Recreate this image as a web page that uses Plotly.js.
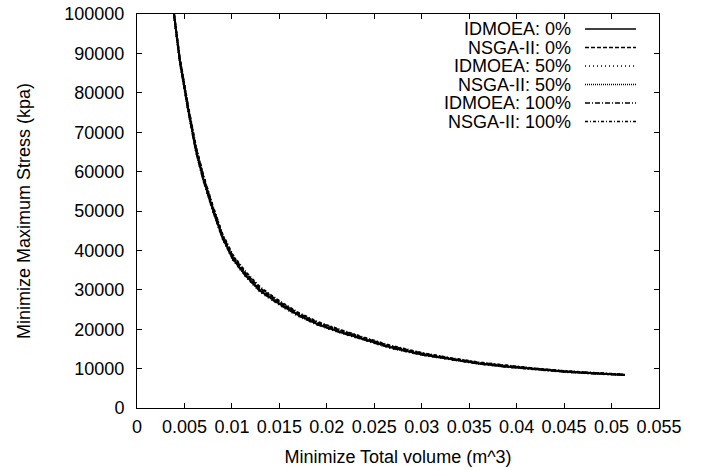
<!DOCTYPE html>
<html><head><meta charset="utf-8">
<script src="https://cdn.plot.ly/plotly-3.0.1.min.js"></script>
<style>html,body{margin:0;padding:0;background:#fff}#chart{width:717px;height:470px}</style>
</head><body><div id="chart"></div>
<script>
const seriesNames = ["IDMOEA: 0%", "NSGA-II: 0%", "IDMOEA: 50%", "NSGA-II: 50%", "IDMOEA: 100%", "NSGA-II: 100%"];
const volume = [0.0039,0.0045,0.0054,0.0062,0.0070,0.0080,0.0090,0.0101,0.0115,0.0130,0.0151,0.0170,0.0190,0.0214,0.0240,0.0267,0.0300,0.0330,0.0360,0.0390,0.0420,0.0450,0.0480,0.0514];
const stressIDMOEA0   = [100000,88300,75600,65500,58000,50300,43300,37900,33500,29700,26300,23600,21300,19300,17400,15400,13600,12400,11300,10500,9800,9250,8800,8400];
const stressNSGA0     = [100000,88800,76200,66200,58700,50900,43900,38500,34100,30300,26800,24000,21700,19700,17700,15700,13900,12600,11500,10700,9950,9350,8900,8450];
const stressIDMOEA50  = [99500,87900,75200,65100,57600,49900,43000,37600,33200,29400,26000,23300,21100,19100,17200,15200,13450,12250,11200,10400,9700,9150,8720,8350];
const stressNSGA50    = [100000,88500,75900,65800,58300,50600,43600,38200,33800,30000,26600,23800,21500,19500,17550,15550,13750,12500,11400,10600,9870,9300,8850,8420];
const stressIDMOEA100 = [99800,88100,75400,65300,57800,50100,43150,37750,33350,29550,26150,23450,21200,19200,17300,15300,13520,12320,11250,10450,9750,9200,8760,8380];
const stressNSGA100   = [100000,89000,76500,66500,59000,51200,44200,38800,34400,30600,27000,24200,21900,19850,17850,15850,14000,12700,11600,10750,10000,9400,8930,8470];
const xTickVals = [0,0.005,0.01,0.015,0.02,0.025,0.03,0.035,0.04,0.045,0.05,0.055];
const xTickText = ["0","0.005","0.01","0.015","0.02","0.025","0.03","0.035","0.04","0.045","0.05","0.055"];
const yTickVals = [0,10000,20000,30000,40000,50000,60000,70000,80000,90000,100000];
const yTickText = ["0","10000","20000","30000","40000","50000","60000","70000","80000","90000","100000"];

const allStress = [stressIDMOEA0, stressNSGA0, stressIDMOEA50, stressNSGA50, stressIDMOEA100, stressNSGA100];
const dashes = ["solid", "4px,2px", "1px,3px", "1px,1px", "5px,2px,1px,2px", "3px,2px,1px,2px"];

const W = 717, H = 470;
const M = {l: 137, r: 58, t: 14, b: 62};
const pw = W - M.l - M.r, ph = H - M.t - M.b;
const px = v => (v - M.l) / pw;
const py = v => (H - M.b - v) / ph;

const traces = allStress.map((s, i) => ({
  x: volume, y: s, type: 'scatter', mode: 'lines', name: seriesNames[i],
  line: {color: '#000', width: 2, dash: dashes[i]}, showlegend: false
}));

const font = {family: 'Liberation Sans, Arial, Helvetica, sans-serif', size: 18, color: '#000'};
const annotations = [], shapes = [];
seriesNames.forEach((n, i) => {
  const yc = 29 + i * 18.5;
  annotations.push({xref: 'paper', yref: 'paper', x: px(572), y: py(yc), xanchor: 'right', yanchor: 'middle',
    text: n, showarrow: false, font: font, borderpad: 0});
  shapes.push({type: 'line', xref: 'paper', yref: 'paper', x0: px(585), x1: px(636), y0: py(yc), y1: py(yc),
    line: {color: '#000', width: 1.6, dash: dashes[i]}});
});

const axisCommon = {showgrid: false, zeroline: false, showline: true, linecolor: '#000', linewidth: 1,
  mirror: 'ticks', ticks: 'inside', ticklen: 5, tickcolor: '#000', tickwidth: 1, tickfont: font, tickmode: 'array'};

const layout = {
  width: W, height: H, margin: M, paper_bgcolor: '#fff', plot_bgcolor: '#fff', font: font,
  showlegend: false,
  xaxis: Object.assign({}, axisCommon, {range: [0, 0.055], tickvals: xTickVals, ticktext: xTickText,
    ticklabelstandoff: 2, title: {text: 'Minimize Total volume (m^3)', font: font, standoff: 14}, automargin: false}),
  yaxis: Object.assign({}, axisCommon, {range: [0, 100000], tickvals: yTickVals, ticktext: yTickText,
    ticklabelstandoff: 8, title: {text: 'Minimize Maximum Stress (kpa)', font: font, standoff: 29}, automargin: false}),
  annotations: annotations, shapes: shapes
};
Plotly.newPlot('chart', traces, layout, {staticPlot: true, displayModeBar: false});
</script></body></html>
